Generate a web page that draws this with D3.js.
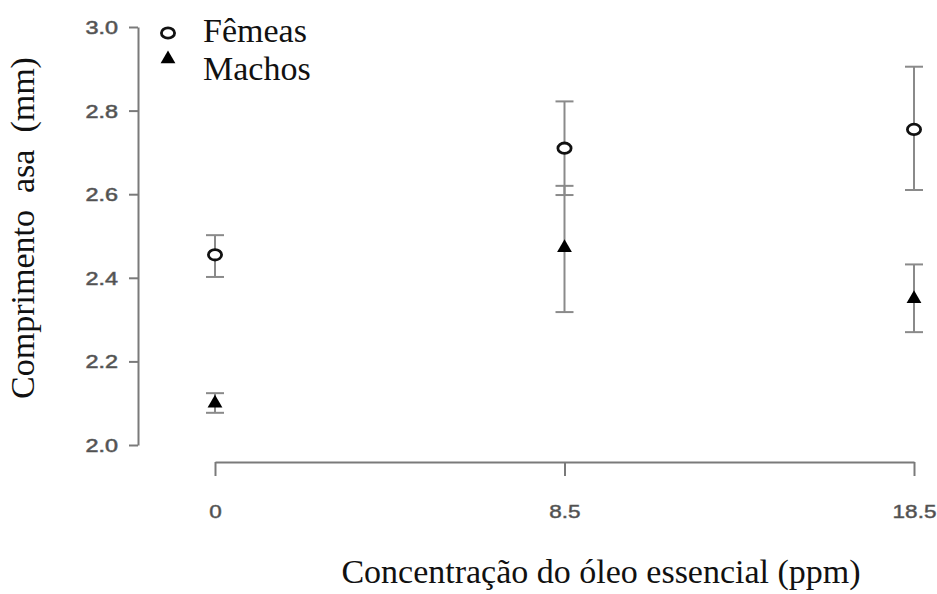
<!DOCTYPE html>
<html><head><meta charset="utf-8">
<script src="https://cdn.jsdelivr.net/npm/d3@7"></script>
<style>body{margin:0;background:#fff}svg{display:block}</style>
</head><body>
<svg id="c" width="937" height="594"></svg>
<script>
const categories = ["0", "8.5", "18.5"];
const femeasMean = [2.455, 2.71, 2.755];
const femeasLow  = [2.402, 2.598, 2.61];
const femeasHigh = [2.502, 2.822, 2.905];
const machosMean = [2.10, 2.472, 2.35];
const machosLow  = [2.077, 2.318, 2.27];
const machosHigh = [2.124, 2.62, 2.432];
const yTicks = [2.0, 2.2, 2.4, 2.6, 2.8, 3.0];
const seriesNames = ["Fêmeas", "Machos"];

const svg = d3.select("#c");
const x = d3.scalePoint().domain(categories).range([215, 914]);
const y = d3.scaleLinear().domain([2.0, 3.0]).range([445, 27]);
const axisCol = "#7a7a7a";
const errCol = "#8a8a8a";
const sans = "Liberation Sans, Arial, sans-serif";
const serif = "Liberation Serif, Times New Roman, serif";

// Y axis
const ya = svg.append("g").attr("transform", "translate(138,0)")
  .call(d3.axisLeft(y).tickValues(yTicks).tickFormat(d3.format(".1f")).tickSize(9).tickSizeOuter(0));
ya.select(".domain").attr("stroke", axisCol).attr("stroke-width", 2);
ya.selectAll(".tick line").attr("stroke", axisCol).attr("stroke-width", 2);
ya.selectAll(".tick text").attr("fill", "#4a4a4a").attr("stroke", "#666").attr("stroke-width", 0.6)
  .attr("font-family", sans).attr("font-size", 18)
  .attr("x", 0).attr("dy", "0.36em").attr("transform", "translate(-20,0) scale(1.3,1)");

// X axis
const xa = svg.append("g").attr("transform", "translate(0,462)")
  .call(d3.axisBottom(x).tickSize(14).tickSizeOuter(0));
xa.select(".domain").attr("stroke", axisCol).attr("stroke-width", 2);
xa.selectAll(".tick line").attr("stroke", axisCol).attr("stroke-width", 2);
xa.selectAll(".tick text").attr("fill", "#4a4a4a").attr("stroke", "#666").attr("stroke-width", 0.5)
  .attr("font-family", sans).attr("font-size", 18)
  .attr("y", 0).attr("dy", 0).attr("transform", "translate(0,56) scale(1.25,1)");

function errBars(lo, hi) {
  const g = svg.append("g").attr("stroke", errCol).attr("stroke-width", 2).attr("fill", "none");
  categories.forEach((c, i) => {
    const cx = x(c);
    g.append("line").attr("x1", cx).attr("x2", cx).attr("y1", y(lo[i])).attr("y2", y(hi[i]));
    g.append("line").attr("x1", cx - 9).attr("x2", cx + 9).attr("y1", y(lo[i])).attr("y2", y(lo[i]));
    g.append("line").attr("x1", cx - 9).attr("x2", cx + 9).attr("y1", y(hi[i])).attr("y2", y(hi[i]));
  });
}
errBars(femeasLow, femeasHigh);
errBars(machosLow, machosHigh);

const tri = d3.symbol().type(d3.symbolTriangle).size(95);
function circleAt(g, cx, cy) {
  g.append("ellipse").attr("cx", cx).attr("cy", cy).attr("rx", 6.6).attr("ry", 5.2)
    .attr("fill", "#fff").attr("stroke", "#111").attr("stroke-width", 2.8);
}
function triAt(g, cx, cy) {
  g.append("path").attr("d", tri).attr("transform", `translate(${cx},${cy})`).attr("fill", "#000");
}
const pts = svg.append("g");
categories.forEach((c, i) => { circleAt(pts, x(c), y(femeasMean[i])); triAt(pts, x(c), y(machosMean[i])); });

// Legend
const lg = svg.append("g");
circleAt(lg, 168, 33);
triAt(lg, 168, 59);
lg.selectAll("text").data(seriesNames).join("text")
  .attr("x", 203).attr("y", (d, i) => 42 + i * 38)
  .attr("font-family", serif).attr("font-size", 34).attr("fill", "#111")
  .text(d => d);

// Axis titles
svg.append("text").attr("transform", "translate(34,228) rotate(-90)").attr("text-anchor", "middle")
  .attr("font-family", serif).attr("font-size", 34).attr("fill", "#111")
  .style("white-space", "pre").text("Comprimento  asa  (mm)");
svg.append("text").attr("x", 601).attr("y", 583).attr("text-anchor", "middle")
  .attr("font-family", serif).attr("font-size", 34).attr("fill", "#111")
  .text("Concentração do óleo essencial (ppm)");
</script>
</body></html>
